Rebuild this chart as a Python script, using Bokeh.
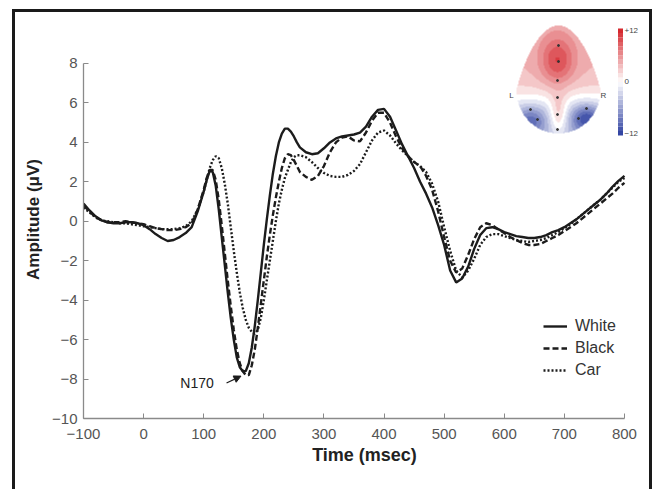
import numpy as np
from bokeh.plotting import figure
from bokeh.models import (Range1d, Legend, LegendItem, Label, Arrow, NormalHead, FixedTicker)
from bokeh.embed import file_html
from bokeh.resources import INLINE

# ---------------- data ----------------
time_ms = ([-100, -90, -80, -70, -60, -50, -40, -30, -20, -10, 0, 10, 20, 30, 40, 50, 60, 70, 80, 90, 100]
           + [105, 110, 115, 120, 125, 130, 135, 140, 145, 150, 155, 160, 165, 170, 175, 180, 185, 190,
              195, 200, 205, 210, 215, 220, 225, 230, 235, 240, 245, 250, 255, 260]
           + [270, 280, 290, 300, 310, 320, 330, 340, 350, 360, 370, 380, 390, 400, 410, 420, 430, 440,
              450, 460, 470, 480, 490, 500, 510, 520, 530, 540, 550, 560, 570, 580, 590, 600, 610, 620,
              630, 640, 650, 660, 670, 680, 690, 700, 710, 720, 730, 740, 750, 760, 770, 780, 790, 800])

white = ([0.9, 0.55, 0.25, 0.05, -0.05, -0.1, -0.1, -0.05, -0.05, -0.1, -0.2, -0.4, -0.65, -0.85, -1.0,
          -0.95, -0.8, -0.6, -0.3, 0.5, 1.5]
         + [2.1, 2.55, 2.5, 1.8, 0.6, -0.8, -2.2, -3.6, -4.9, -6.0, -6.9, -7.4, -7.6, -7.6, -7.2, -6.4,
            -5.3, -4.0, -2.6, -1.2, 0.1, 1.3, 2.4, 3.3, 4.0, 4.45, 4.7, 4.7, 4.55, 4.3, 4.0, 3.75]
         + [3.5, 3.4, 3.45, 3.7, 4.0, 4.2, 4.3, 4.35, 4.4, 4.5, 4.8, 5.3, 5.65, 5.7, 5.3, 4.6, 3.9, 3.3,
            2.7, 2.0, 1.4, 0.7, -0.2, -1.2, -2.5, -3.1, -2.9, -2.3, -1.4, -0.7, -0.35, -0.3, -0.4, -0.55,
            -0.65, -0.75, -0.8, -0.85, -0.85, -0.8, -0.7, -0.55, -0.45, -0.3, -0.1, 0.1, 0.35, 0.6, 0.85,
            1.1, 1.4, 1.75, 2.05, 2.3])

black = ([0.8, 0.5, 0.2, 0.05, -0.05, -0.05, -0.05, 0.0, -0.05, -0.1, -0.15, -0.25, -0.35, -0.4, -0.45,
          -0.45, -0.4, -0.3, -0.1, 0.6, 1.6]
         + [2.2, 2.6, 2.6, 2.1, 1.1, -0.2, -1.6, -3.0, -4.3, -5.5, -6.5, -7.2, -7.6, -7.8, -7.8, -7.3,
            -6.5, -5.4, -4.2, -3.0, -1.8, -0.7, 0.3, 1.2, 2.0, 2.7, 3.2, 3.4, 3.35, 3.1, 2.8, 2.5]
         + [2.25, 2.1, 2.3, 2.8, 3.5, 4.0, 4.25, 4.3, 4.1, 4.05, 4.5, 5.1, 5.5, 5.5, 5.0, 4.3, 3.7, 3.3,
            3.0, 2.8, 2.3, 1.6, 0.5, -0.8, -2.0, -2.6, -2.4, -1.7, -0.9, -0.3, -0.1, -0.2, -0.4, -0.6,
            -0.8, -0.95, -1.1, -1.2, -1.2, -1.15, -1.0, -0.85, -0.7, -0.5, -0.3, -0.1, 0.15, 0.4, 0.65,
            0.9, 1.15, 1.4, 1.7, 1.95])

car = ([0.7, 0.45, 0.2, 0.05, 0.0, -0.05, -0.1, -0.1, -0.15, -0.2, -0.25, -0.3, -0.35, -0.4, -0.4,
        -0.4, -0.35, -0.25, 0.0, 0.6, 1.5]
       + [2.1, 2.7, 3.1, 3.3, 3.2, 2.7, 1.9, 0.9, -0.3, -1.5, -2.6, -3.6, -4.4, -5.0, -5.4, -5.6, -5.7,
          -5.5, -4.9, -4.0, -3.0, -2.0, -1.0, 0.0, 0.9, 1.6, 2.2, 2.6, 3.0, 3.25, 3.35, 3.35]
       + [3.25, 3.0, 2.7, 2.45, 2.3, 2.25, 2.25, 2.35, 2.55, 2.9, 3.5, 4.1, 4.5, 4.6, 4.35, 3.95, 3.6,
          3.3, 3.0, 2.8, 2.5, 1.9, 1.0, -0.3, -1.5, -2.5, -2.85, -2.5, -1.9, -1.2, -0.8, -0.65, -0.65,
          -0.75, -0.85, -0.95, -1.0, -1.05, -1.0, -0.95, -0.85, -0.7, -0.55, -0.35, -0.15, 0.1, 0.35,
          0.6, 0.85, 1.1, 1.4, 1.7, 2.0, 2.2])

series_names = ["White", "Black", "Car"]
x_ticks = [-100, 0, 100, 200, 300, 400, 500, 600, 700, 800]
y_ticks = [-10, -8, -6, -4, -2, 0, 2, 4, 6, 8]
colorbar_levels = list(range(-12, 12))   # one band per microvolt, -12 .. +12
colorbar_labels = ["+12", "0", "\u221212"]

# ---------------- layout ----------------
W, H = 653, 489
FL, FR, FT, FB = 83, 645, 20, 418        # frame edges in canvas px
X0, X1 = -100, 835
Y0, Y1 = -10, 10.18
KX = (FR - FL) / (X1 - X0)
KY = (FB - FT) / (Y1 - Y0)


def sx(cpx):
    return X0 + (cpx - FL) / KX


def sy(cpy):
    return Y0 + (FB - cpy) / KY


FONT = "Liberation Sans"
INK = "#1c1c1c"

p = figure(width=W, height=H, output_backend="svg", toolbar_location=None,
           x_range=Range1d(X0, X1), y_range=Range1d(Y0, Y1),
           min_border_left=FL, min_border_right=W - FR,
           min_border_top=FT, min_border_bottom=H - FB)
p.outline_line_color = None
p.grid.visible = False
p.background_fill_color = "white"
p.border_fill_alpha = 0.0
# outer dark frame of the figure panel (left, top, right edges), drawn as CSS background
bar = "linear-gradient(#1a1a1a, #1a1a1a)"
p.styles = {
    "background": (f"{bar} 12px 9px / 3px 600px no-repeat, "
                   f"{bar} 12px 9px / 640px 3px no-repeat, "
                   f"{bar} 649px 9px / 3px 600px no-repeat, white")
}

for ax, ticks, bnds in ((p.xaxis[0], x_ticks, (-100, 800)), (p.yaxis[0], y_ticks, (-10, 8))):
    ax.bounds = bnds
    ax.ticker = FixedTicker(ticks=ticks)
    ax.major_label_overrides = {t: str(t).replace("-", "\u2212") for t in ticks}
    ax.minor_tick_line_color = None
    ax.major_tick_in = 5
    ax.major_tick_out = 0
    ax.axis_line_color = "#8a8a8a"
    ax.major_tick_line_color = "#8a8a8a"
    ax.axis_line_width = 1.3
    ax.major_label_text_font = FONT
    ax.major_label_text_font_size = "15px"
    ax.major_label_text_color = "#555555"
    ax.axis_label_text_font = FONT
    ax.axis_label_text_font_style = "bold"
    ax.axis_label_text_color = "#222222"

p.xaxis.axis_label = "Time (msec)"
p.yaxis.axis_label = "Amplitude (\u03bcV)"
p.xaxis.axis_label_text_font_size = "18px"
p.yaxis.axis_label_text_font_size = "17px"
p.xaxis.major_label_standoff = 10
p.yaxis.major_label_standoff = 6
p.xaxis.axis_label_standoff = 3
p.yaxis.axis_label_standoff = 6

# ---------------- ERP lines ----------------
r_white = p.line(time_ms, white, line_color=INK, line_width=2.4)
r_black = p.line(time_ms, black, line_color=INK, line_width=2.4, line_dash="6 3")
r_car = p.line(time_ms, car, line_color=INK, line_width=2.4, line_dash="2 2")

legend = Legend(items=[LegendItem(label=series_names[0], renderers=[r_white]),
                       LegendItem(label=series_names[1], renderers=[r_black]),
                       LegendItem(label=series_names[2], renderers=[r_car])],
                location=(460, 38), border_line_color=None, background_fill_alpha=0,
                label_text_font=FONT, label_text_font_size="16px", label_text_color="#333333",
                glyph_width=24, glyph_height=20, label_height=20, spacing=2,
                padding=0, margin=0, label_standoff=8)
p.add_layout(legend)

# ---------------- N170 annotation ----------------
p.add_layout(Label(x=61, y=-8.2, text="N170", text_font=FONT, text_font_size="14px",
                   text_color="#222222", text_baseline="middle"))
p.add_layout(Arrow(end=NormalHead(size=7, fill_color=INK, line_color=INK),
                   x_start=138, y_start=-8.2, x_end=162, y_end=-7.85,
                   line_color=INK, line_width=1.3))

# ---------------- scalp-map inset (decoration) ----------------
hx0, hx1, hy0, hy1 = 514, 602, 22, 136
nx, ny = hx1 - hx0, hy1 - hy0
PX, PY = np.meshgrid(hx0 + 0.5 + np.arange(nx), hy0 + 0.5 + np.arange(ny))
dx = PX - 558.0
dy = 90.0 - PY
top_w = 42 * np.sqrt(np.clip(1 - (np.clip(dy, 0, None) / 65.0) ** 1.15, 0, None))
bot_w = 42 * np.sqrt(np.clip(1 - (np.clip(-dy, 0, None) / 43.0) ** 2, 0, None))
inside = np.where(dy >= 0, np.abs(dx) <= top_w, np.abs(dx) <= bot_w)


def g(cx, cy, sxx, syy):
    return np.exp(-((dx - cx) / sxx) ** 2 - ((dy - cy) / syy) ** 2)


field = (4.0 * np.tanh((dy + 8) / 20.0)
         + 6.0 * g(-1, 30, 17, 24)
         + 5.0 * g(0, -25, 9, 20)
         - 6.0 * g(-28, -30, 15, 14)
         - 8.0 * g(28, -28, 15, 14))

RED = np.array([212, 32, 38])
BLUE = np.array([44, 62, 160])
WHITE_C = np.array([255, 255, 255])


def level_color(v):
    t = np.clip(np.asarray(v, dtype=float) / 12.0, -1, 1)[..., None]
    return np.where(t >= 0, WHITE_C + t * (RED - WHITE_C), WHITE_C + (-t) * (BLUE - WHITE_C))


q = np.round(field / 1.5) * 1.5
rgb = level_color(q)
img = np.zeros((ny, nx, 4), dtype=np.uint8)
img[..., :3] = np.clip(rgb, 0, 255).astype(np.uint8)
img[..., 3] = np.where(inside, 255, 0).astype(np.uint8)
img = img[::-1].copy()
p.image_rgba(image=[img.view(np.uint32).reshape(ny, nx)], x=sx(hx0), y=sy(hy1),
             dw=(hx1 - hx0) / KX, dh=(hy1 - hy0) / KY)

# electrode dots
ex = [558, 558, 557, 557, 557, 557, 530, 537, 586, 578]
ey = [45, 61, 80, 97, 114, 129, 109, 119, 108, 118]
p.scatter([sx(v) for v in ex], [sy(v) for v in ey], size=2, color="#333333")

# colour bar
cb_bottom_px, cb_top_px = 135, 28
band_h = (cb_bottom_px - cb_top_px) / len(colorbar_levels)
cb_cols = []
for lv in colorbar_levels:
    c = np.clip(level_color(lv + 0.5), 0, 255).astype(int)
    cb_cols.append("#%02x%02x%02x" % tuple(c))
p.quad(left=sx(617.5), right=sx(622.5),
       bottom=[sy(cb_bottom_px - i * band_h) for i in range(len(colorbar_levels))],
       top=[sy(cb_bottom_px - (i + 1) * band_h) for i in range(len(colorbar_levels))],
       fill_color=cb_cols, line_color=None)

for txt, ypx in zip(colorbar_labels, [30, 81, 133]):
    p.add_layout(Label(x=sx(624), y=sy(ypx), text=txt, text_font=FONT, text_font_size="8px",
                       text_color="#444444", text_baseline="middle"))
p.add_layout(Label(x=sx(511), y=sy(95), text="L", text_font=FONT, text_font_size="8px",
                   text_color="#444444", text_baseline="middle", text_align="center"))
p.add_layout(Label(x=sx(603), y=sy(95), text="R", text_font=FONT, text_font_size="8px",
                   text_color="#444444", text_baseline="middle", text_align="center"))

open("out.html", "w").write(file_html(p, INLINE))
